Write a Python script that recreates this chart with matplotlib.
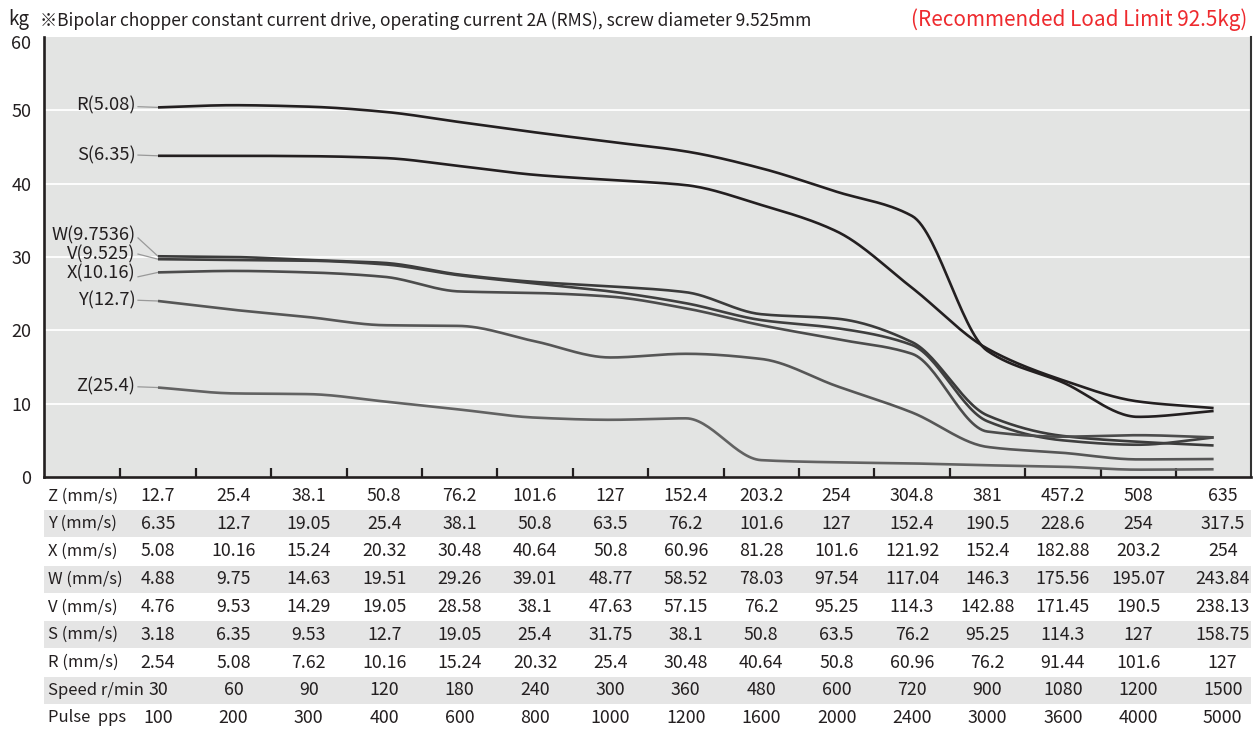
import numpy as np
import matplotlib
matplotlib.use("Agg")
from matplotlib import pyplot as plt
from matplotlib import transforms
from matplotlib.patches import Rectangle

plt.rcParams['font.family'] = ['Noto Sans CJK JP', 'DejaVu Sans']

# load (kg) per lead, one value per speed column
load_R = [50.4, 50.7, 50.5, 49.8, 48.4, 47.0, 45.7, 44.4, 42.1, 38.9, 35.6, 17.2, 12.9, 8.2, 9.0]
load_S = [43.8, 43.8, 43.75, 43.5, 42.4, 41.2, 40.5, 39.8, 37.1, 33.5, 25.8, 17.5, 13.2, 10.3, 9.4]
load_W = [30.1, 30.0, 29.6, 29.2, 27.6, 26.6, 26.0, 25.2, 22.2, 21.6, 18.4, 8.4, 5.6, 4.8, 4.3]
load_V = [29.7, 29.6, 29.5, 29.0, 27.5, 26.4, 25.3, 23.7, 21.4, 20.3, 18.0, 7.6, 5.0, 4.4, 5.4]
load_X = [27.9, 28.1, 27.9, 27.3, 25.3, 25.1, 24.6, 23.0, 20.7, 18.8, 16.8, 6.2, 5.5, 5.7, 5.4]
load_Y = [24.0, 22.8, 21.8, 20.7, 20.6, 18.5, 16.3, 16.8, 16.1, 12.4, 8.8, 4.1, 3.3, 2.4, 2.45]
load_Z = [12.2, 11.4, 11.3, 10.3, 9.2, 8.1, 7.8, 8.0, 2.3, 2.0, 1.85, 1.6, 1.4, 1.0, 1.05]

curve_labels = ['R(5.08)', 'S(6.35)', 'W(9.7536)', 'V(9.525)', 'X(10.16)', 'Y(12.7)', 'Z(25.4)']

# table rows under the chart
row_names = ['Z (mm/s)', 'Y (mm/s)', 'X (mm/s)', 'W (mm/s)', 'V (mm/s)',
             'S (mm/s)', 'R (mm/s)', 'Speed r/min', 'Pulse  pps']
row_Z = ['12.7', '25.4', '38.1', '50.8', '76.2', '101.6', '127', '152.4', '203.2', '254', '304.8', '381', '457.2', '508', '635']
row_Y = ['6.35', '12.7', '19.05', '25.4', '38.1', '50.8', '63.5', '76.2', '101.6', '127', '152.4', '190.5', '228.6', '254', '317.5']
row_X = ['5.08', '10.16', '15.24', '20.32', '30.48', '40.64', '50.8', '60.96', '81.28', '101.6', '121.92', '152.4', '182.88', '203.2', '254']
row_W = ['4.88', '9.75', '14.63', '19.51', '29.26', '39.01', '48.77', '58.52', '78.03', '97.54', '117.04', '146.3', '175.56', '195.07', '243.84']
row_V = ['4.76', '9.53', '14.29', '19.05', '28.58', '38.1', '47.63', '57.15', '76.2', '95.25', '114.3', '142.88', '171.45', '190.5', '238.13']
row_S = ['3.18', '6.35', '9.53', '12.7', '19.05', '25.4', '31.75', '38.1', '50.8', '63.5', '76.2', '95.25', '114.3', '127', '158.75']
row_R = ['2.54', '5.08', '7.62', '10.16', '15.24', '20.32', '25.4', '30.48', '40.64', '50.8', '60.96', '76.2', '91.44', '101.6', '127']
row_speed = ['30', '60', '90', '120', '180', '240', '300', '360', '480', '600', '720', '900', '1080', '1200', '1500']
row_pulse = ['100', '200', '300', '400', '600', '800', '1000', '1200', '1600', '2000', '2400', '3000', '3600', '4000', '5000']


def smooth_curve(vals, n=30):
    """piecewise cubic through the points (pchip style slopes, no overshoot)"""
    y = np.asarray(vals, dtype=float)
    d = np.diff(y)
    m = np.zeros_like(y)
    for k in range(1, len(y) - 1):
        if d[k - 1] * d[k] > 0:
            m[k] = 2.0 / (1.0 / d[k - 1] + 1.0 / d[k])
    m[0] = d[0]
    m[-1] = d[-1]
    t = np.linspace(0, 1, n, endpoint=False)
    h00 = 2 * t ** 3 - 3 * t ** 2 + 1
    h10 = t ** 3 - 2 * t ** 2 + t
    h01 = -2 * t ** 3 + 3 * t ** 2
    h11 = t ** 3 - t ** 2
    xs, ys = [], []
    for i in range(len(y) - 1):
        xs.append(i + t)
        ys.append(h00 * y[i] + h10 * m[i] + h01 * y[i + 1] + h11 * m[i + 1])
    xs.append([len(y) - 1])
    ys.append([y[-1]])
    return np.concatenate(xs), np.concatenate(ys)


W, H = 1258, 732
INK = '#231f20'
fig = plt.figure(figsize=(W / 100, H / 100), dpi=100)
ax = fig.add_axes([44 / W, 1 - 477 / H, (1251 - 44) / W, (477 - 37) / H])
ax.set_zorder(2)
ax.set_facecolor('#e3e4e3')
ax.set_xlim(-1.512, 14.496)
ax.set_ylim(0, 60)

for g in range(10, 60, 10):
    ax.axhline(g, color='white', lw=1.3, zorder=1)

series = [load_R, load_S, load_W, load_V, load_X, load_Y, load_Z]
colors = [INK, INK, '#3b3b3b', '#3f3f3f', '#4c4c4c', '#565656', '#626262']
for vals, c in zip(series, colors):
    xs, ys = smooth_curve(vals)
    ax.plot(xs, ys, color=c, lw=1.9, solid_capstyle='butt', zorder=3)

# labels on the left with little leader lines
label_y = [50.7, 43.9, 32.9, 30.3, 27.7, 24.1, 12.3]
lead_y = [50.5, 43.9, 32.6, 30.4, 27.3, 24.1, 12.3]
for name, ly, ld, vals in zip(curve_labels, label_y, lead_y, series):
    ax.text(-0.30, ly, name, ha='right', va='center', fontsize=13.2, color=INK)
    ax.plot([-0.265, 0], [ld, vals[0]], color='#999999', lw=0.9, zorder=2)

ax.set_yticks(range(0, 61, 10))
ax.tick_params(axis='y', length=0, pad=9, labelsize=13, labelcolor=INK)
# the top label sits a little lower
top_lab = ax.get_yticklabels()[-1]
top_lab.set_transform(top_lab.get_transform() +
                      transforms.ScaledTranslation(0, -5 / 100, fig.dpi_scale_trans))
ax.set_xticks(np.arange(-0.5, 14, 1.0))
ax.set_xticklabels([])
ax.tick_params(axis='x', direction='in', length=6.5, width=1.6, color=INK)

for s in ['left', 'bottom']:
    ax.spines[s].set_linewidth(1.9)
    ax.spines[s].set_color(INK)
ax.spines['right'].set_linewidth(1.5)
ax.spines['right'].set_color('#333333')
ax.spines['top'].set_visible(False)

fig.text(8 / W, 1 - 19 / H, 'kg', fontsize=13.5, va='center', ha='left', color=INK)
fig.text(40 / W, 1 - 21 / H,
         '※Bipolar chopper constant current drive, operating current 2A (RMS), screw diameter 9.525mm',
         fontsize=12.5, va='center', ha='left', color=INK)
fig.text(1247 / W, 1 - 20 / H, '(Recommended Load Limit 92.5kg)',
         fontsize=14.9, va='center', ha='right', color='#ee2a2e')

# speed table
rows = [row_Z, row_Y, row_X, row_W, row_V, row_S, row_R, row_speed, row_pulse]
blend = transforms.blended_transform_factory(ax.transData, fig.transFigure)
col_x = np.arange(15, dtype=float)
col_x[-1] += 0.12
for r, (name, cells) in enumerate(zip(row_names, rows)):
    cy = 496 + r * 27.75
    if r % 2 == 1:
        fig.patches.append(Rectangle((44 / W, 1 - (cy + 13.5) / H), (1251 - 44) / W, 27 / H,
                                     transform=fig.transFigure, facecolor='#e5e5e5',
                                     edgecolor='none', zorder=0))
    fig.text(48 / W, 1 - cy / H, name, fontsize=12, va='center', ha='left', color=INK,
             zorder=3)
    for x, c in zip(col_x, cells):
        fig.text(x, 1 - cy / H, c, transform=blend, fontsize=12.8, va='center', ha='center',
                 color=INK, zorder=3)

fig.savefig('out.png', dpi=100)
